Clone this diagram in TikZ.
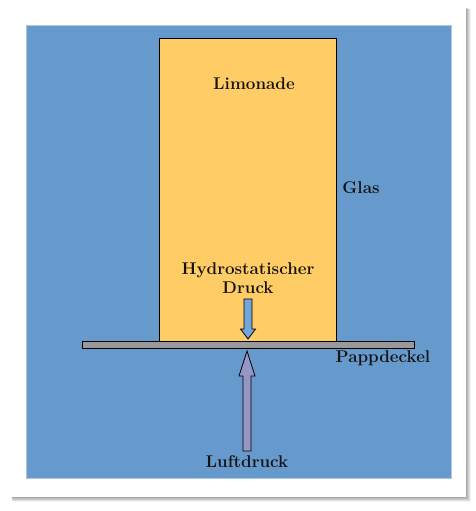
\documentclass[tikz,border=0pt]{standalone}
\usetikzlibrary{positioning}
\definecolor{skyblue}{RGB}{102,153,204}
\definecolor{lemon}{RGB}{255,204,102}
\definecolor{cardgray}{RGB}{153,153,153}
\definecolor{pushblue}{RGB}{117,166,218}
\definecolor{airlilac}{RGB}{150,150,196}
\begin{document}
\begin{tikzpicture}[x=1pt,y=-1pt]
\tikzstyle{lbl}=[font=\fontsize{17}{19}\selectfont\bfseries, text=black!92, inner sep=0pt, align=center]
\useasboundingbox (0,0) rectangle (476,511);
% drop shadow of the frame
\foreach \k in {1,...,10}
  \fill[black, opacity=0.045] (11+\k*0.15,7+\k*0.25) rectangle (466+\k*0.45,497+\k*0.45);
\fill[white] (11,7) rectangle (466,497);
\draw[fill=skyblue, draw=skyblue!55!white] (26,25) rectangle (451,478);
% glass and cardboard
\coordinate (a) at (159,38);
\coordinate (b) at (336,342);
\draw[fill=lemon, line width=0.9pt] (a) rectangle (b);
\coordinate (c) at (82,341);
\coordinate (d) at (414,348);
\draw[fill=cardgray, line width=0.9pt] (c) rectangle (d);
% arrows
\draw[fill=pushblue, line width=0.8pt] (244,299) -- (252,299) -- (252,329) -- (255.5,329)
  -- (248,339) -- (240.5,329) -- (244,329) -- cycle;
\draw[fill=airlilac, line width=0.8pt] (243,451) -- (251,451) -- (251,376) -- (255,376)
  -- (247,351) -- (239,376) -- (243,376) -- cycle;
% labels
\node[lbl] (limo) at (254,84) {Limonade};
\node[lbl] (glas) at (361,188) {Glas};
\node[lbl] (hydro) at (248,278) {Hydrostatischer\\Druck};
\node[lbl] (papp) at (383,358) {Pappdeckel};
\node[lbl] (luft) at (247,462) {Luftdruck};
\end{tikzpicture}
\end{document}
